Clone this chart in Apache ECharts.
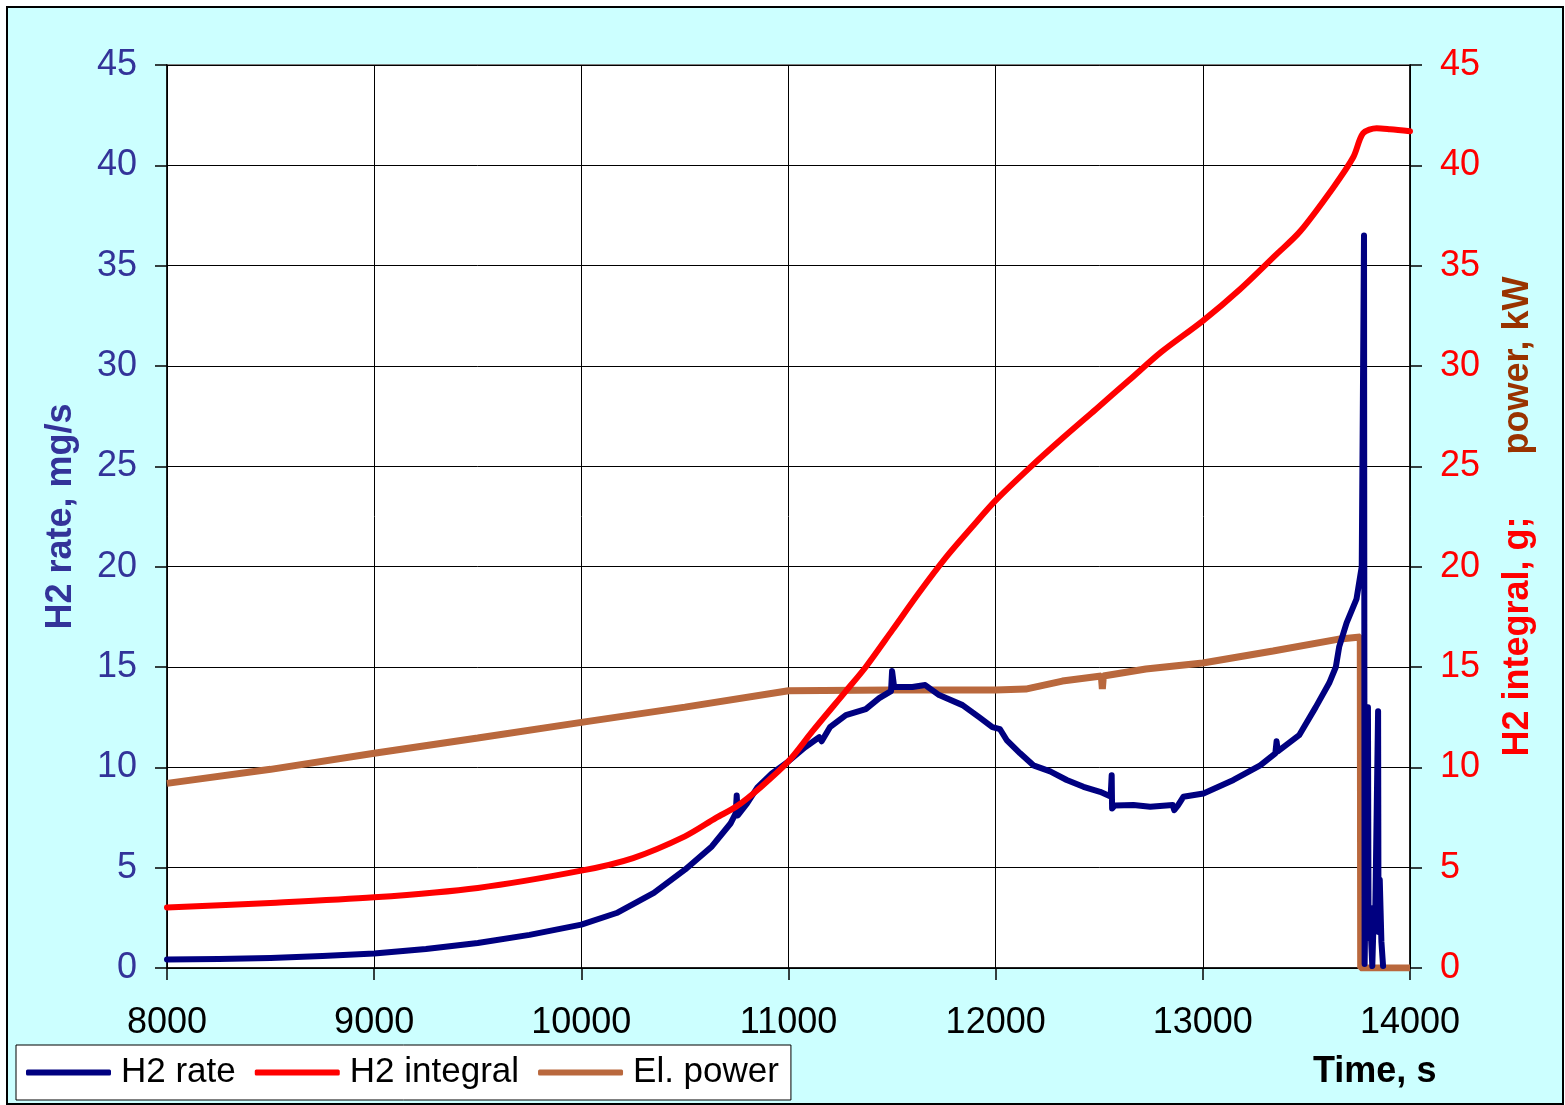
<!DOCTYPE html>
<html>
<head>
<meta charset="utf-8">
<script src="https://cdn.jsdelivr.net/npm/echarts@6/dist/echarts.min.js"></script>
<style>
  html, body { margin: 0; padding: 0; background: #ffffff; }
  #frame { position: absolute; left: 6px; top: 6px; width: 1554px; height: 1095px; background: #CCFFFF; border: 2px solid #000; }
  #chart { position: absolute; left: 0; top: 0; width: 1565px; height: 1105px; }
</style>
</head>
<body>
<div id="frame"></div>
<div id="chart"></div>
<script>
// ---- data ----
const xTicks = [8000, 9000, 10000, 11000, 12000, 13000, 14000];
const yTicks = [0, 5, 10, 15, 20, 25, 30, 35, 40, 45];

const rateTime = [8000, 8250, 8500, 8750, 9000, 9250, 9500, 9750, 10000, 10170, 10350, 10500, 10630, 10720, 10745, 10750, 10755, 10800, 10850, 10920, 11000, 11080, 11148, 11160, 11200, 11277, 11373, 11438, 11495, 11500, 11510, 11598, 11660, 11727, 11840, 11920, 11984, 12021, 12053, 12118, 12182, 12263, 12343, 12424, 12504, 12555, 12560, 12562, 12575, 12665, 12746, 12855, 12862, 12880, 12906, 13003, 13148, 13277, 13350, 13356, 13362, 13465, 13545, 13610, 13642, 13658, 13694, 13742, 13767, 13778, 13781, 13797, 13800, 13806, 13812, 13818, 13826, 13832, 13846, 13848, 13854, 13862, 13870];
const rateVal  = [0.42, 0.45, 0.5, 0.6, 0.72, 0.95, 1.25, 1.65, 2.16, 2.74, 3.74, 4.9, 6.06, 7.2, 7.7, 8.6, 7.6, 8.2, 9.0, 9.7, 10.3, 11.0, 11.5, 11.3, 12.0, 12.6, 12.9, 13.45, 13.8, 14.8, 14.0, 14.0, 14.1, 13.6, 13.1, 12.5, 12.0, 11.9, 11.36, 10.7, 10.1, 9.8, 9.37, 9.03, 8.78, 8.55, 9.6, 7.95, 8.1, 8.12, 8.04, 8.12, 7.87, 8.1, 8.53, 8.7, 9.37, 10.1, 10.7, 11.3, 10.8, 11.6, 13.0, 14.2, 15.0, 16.0, 17.2, 18.4, 20.0, 36.5, 0.2, 13.0, 1.5, 3.0, 1.5, 0.1, 3.0, 2.5, 12.8, 1.8, 4.4, 1.3, 0.1];

const integralTime = [8000, 8500, 9000, 9500, 10000, 10250, 10500, 10650, 10750, 10870, 11000, 11116, 11277, 11373, 11502, 11630, 11759, 11888, 12000, 12161, 12322, 12484, 12645, 12800, 13000, 13177, 13354, 13469, 13630, 13726, 13774, 13839, 13904, 14000];
const integralVal  = [3.02, 3.24, 3.52, 3.99, 4.85, 5.48, 6.56, 7.48, 8.06, 9.05, 10.3, 11.8, 13.8, 15.0, 16.85, 18.7, 20.45, 22.0, 23.3, 24.9, 26.4, 27.85, 29.3, 30.7, 32.25, 33.8, 35.55, 36.7, 38.9, 40.4, 41.6, 41.85, 41.8, 41.7];

const powerTime = [8000, 8500, 9000, 9500, 10000, 10500, 11000, 11500, 12000, 12145, 12322, 12510, 12515, 12520, 12725, 13000, 13339, 13663, 13760, 13762, 14000];
const powerVal  = [9.2, 9.9, 10.7, 11.46, 12.24, 13.0, 13.82, 13.85, 13.85, 13.9, 14.3, 14.55, 13.9, 14.55, 14.9, 15.2, 15.8, 16.4, 16.5, 0, 0];

const seriesNames = ['H2 rate', 'H2 integral', 'El. power'];

function pairs(t, v) { return t.map((x, i) => [x, v[i]]); }

const FONT = '"Liberation Sans", Arial, sans-serif';
const chart = echarts.init(document.getElementById('chart'), null, { renderer: 'canvas' });

const baseAxis = {
  axisLine: { show: true, lineStyle: { color: '#000', width: 1.5 } },
  axisTick: { show: true, inside: false, length: 12, lineStyle: { color: '#000', width: 1.5 } },
  splitLine: { show: true, lineStyle: { color: '#000', width: 1 } }
};

chart.setOption({
  backgroundColor: 'transparent',
  animation: false,
  textStyle: { fontFamily: FONT },
  grid: {
    left: 167, right: 155, top: 65, bottom: 137,
    show: true, backgroundColor: '#ffffff', borderColor: '#808080', borderWidth: 2
  },
  legend: {
    left: 16, top: 1045,
    data: seriesNames,
    icon: 'roundRect',
    backgroundColor: '#ffffff', borderColor: '#000', borderWidth: 1,
    padding: [10, 12, 10, 10],
    itemWidth: 85, itemHeight: 6, itemGap: 19,
    textStyle: { fontSize: 35, color: '#000', fontFamily: FONT, padding: [0, 0, 0, 5] }
  },
  xAxis: Object.assign({}, baseAxis, {
    type: 'value', min: xTicks[0], max: xTicks[xTicks.length - 1], interval: 1000,
    axisLabel: { fontSize: 36, color: '#000', margin: 37, fontFamily: FONT, formatter: v => String(v) }
  }),
  yAxis: [
    Object.assign({}, baseAxis, {
      type: 'value', position: 'left', min: yTicks[0], max: yTicks[yTicks.length - 1], interval: 5,
      name: 'H2 rate, mg/s', nameLocation: 'middle', nameRotate: 90, nameGap: 88,
      nameTextStyle: { fontSize: 36, fontWeight: 'bold', color: '#333399', fontFamily: FONT },
      axisLabel: { fontSize: 36, color: '#333399', margin: 30, fontFamily: FONT }
    }),
    Object.assign({}, baseAxis, {
      type: 'value', position: 'right', min: yTicks[0], max: yTicks[yTicks.length - 1], interval: 5,
      splitLine: { show: false },
      name: '{a|H2 integral, g;}{s|}{b|power, kW}', nameLocation: 'middle', nameRotate: 90, nameGap: 90,
      nameTextStyle: {
        fontSize: 36, fontWeight: 'bold', fontFamily: FONT,
        rich: {
          a: { fontSize: 36, fontWeight: 'bold', color: '#FF0000', fontFamily: FONT },
          s: { width: 62 },
          b: { fontSize: 36, fontWeight: 'bold', color: '#993300', fontFamily: FONT }
        }
      },
      axisLabel: { fontSize: 36, color: '#FF0000', margin: 30, fontFamily: FONT }
    })
  ],
  graphic: [{
    type: 'text', left: 1313, top: 1054,
    style: { text: 'Time, s', fontSize: 36, fontWeight: 'bold', fill: '#000', fontFamily: FONT }
  }],
  series: [
    {
      name: seriesNames[0], type: 'line', yAxisIndex: 0, z: 3,
      data: pairs(rateTime, rateVal), showSymbol: false, symbol: 'none',
      lineStyle: { color: '#000080', width: 6, join: 'round', cap: 'round' },
      itemStyle: { color: '#000080' }
    },
    {
      name: seriesNames[1], type: 'line', yAxisIndex: 1, z: 4,
      data: pairs(integralTime, integralVal), showSymbol: false, symbol: 'none', smooth: 0.3,
      lineStyle: { color: '#FF0000', width: 6, join: 'round', cap: 'round' },
      itemStyle: { color: '#FF0000' }
    },
    {
      name: seriesNames[2], type: 'line', yAxisIndex: 1, z: 2,
      data: pairs(powerTime, powerVal), showSymbol: false, symbol: 'none',
      lineStyle: { color: '#B9683D', width: 7 },
      itemStyle: { color: '#B9683D' }
    }
  ]
});
</script>
</body>
</html>
